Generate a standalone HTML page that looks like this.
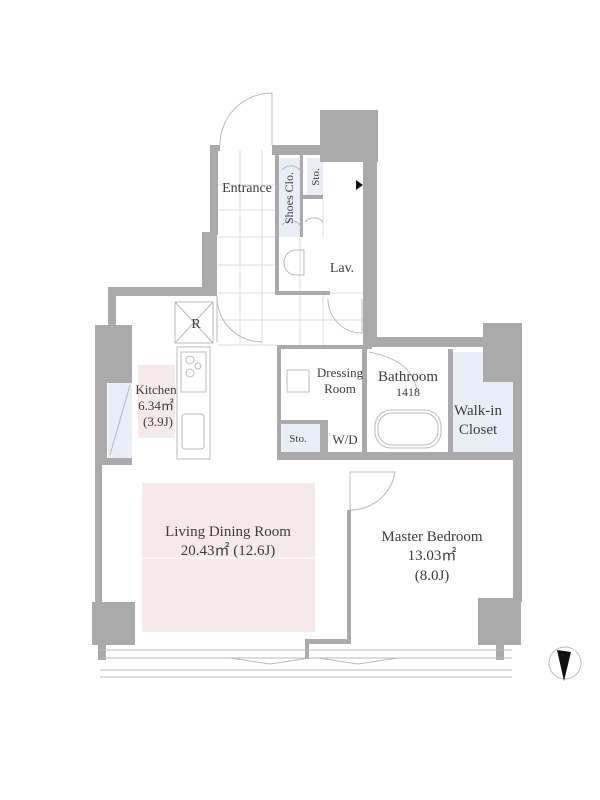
<!DOCTYPE html>
<html><head><meta charset="utf-8"><style>
html,body{margin:0;padding:0;background:#fff}
svg{display:block}
text{font-family:"Liberation Serif",serif;fill:#3d3d3d}
</style></head><body>
<svg width="600" height="800" viewBox="0 0 600 800" xmlns="http://www.w3.org/2000/svg">
<g fill="#f5e9ea">
<rect x="138" y="365" width="37" height="73"/>
<rect x="142" y="483" width="173" height="149"/>
</g>
<line x1="142" y1="558" x2="315" y2="558" stroke="#fff" stroke-width="1"/>
<g fill="#e9eef6">
<rect x="108" y="383" width="24" height="75"/>
<rect x="278" y="158" width="22" height="79"/>
<rect x="307" y="158" width="16" height="37"/>
<rect x="278" y="423" width="42" height="30"/>
<rect x="452" y="352" width="65" height="105"/>
</g>
<g stroke="#ddd" stroke-width="1" fill="none">
<path d="M218 185H278M218 210H278M218 237H278M218 265H278M218 293H363M218 320H363M218 345H277M240 150V345M262 150V345M300 237V345M323 293V345M300 160V237M323 200V237"/>
</g>
<g fill="#aaa">
<rect x="108" y="287" width="8" height="40"/>
<rect x="95" y="325" width="37" height="58"/>
<rect x="95" y="383" width="12" height="82"/>
<rect x="107" y="458" width="25" height="7"/>
<rect x="95" y="465" width="7" height="140"/>
<rect x="92" y="602" width="43" height="43"/>
<rect x="98" y="645" width="8" height="15"/>
<rect x="108" y="287" width="105" height="9"/>
<rect x="202" y="232" width="15" height="64"/>
<rect x="210" y="145" width="8" height="90"/>
<rect x="210" y="145" width="10" height="6"/>
<rect x="272" y="145" width="50" height="10"/>
<rect x="320" y="110" width="58" height="52"/>
<rect x="363" y="160" width="14" height="187"/>
<rect x="363" y="337" width="122" height="10"/>
<rect x="483" y="323" width="39" height="59"/>
<rect x="513" y="380" width="9" height="222"/>
<rect x="478" y="598" width="43" height="47"/>
<rect x="496" y="645" width="8" height="15"/>
<rect x="277" y="345" width="4" height="115"/>
<rect x="277" y="345" width="95" height="4"/>
<rect x="362" y="349" width="5" height="111"/>
<rect x="277" y="452" width="240" height="8"/>
<rect x="448" y="349" width="5" height="108"/>
<rect x="320" y="420" width="8" height="33"/>
<rect x="277" y="420" width="50" height="4"/>
<rect x="275" y="237" width="4" height="58"/>
<rect x="275" y="291" width="55" height="4"/>
<rect x="275" y="155" width="4" height="85"/>
<rect x="300" y="155" width="3" height="82"/>
<rect x="303" y="195" width="20" height="4"/>
<rect x="347" y="510" width="4" height="132"/>
<rect x="305" y="639" width="46" height="5"/>
<rect x="305" y="639" width="4" height="20"/>
</g>
<g fill="none" stroke="#bbb" stroke-width="1">
<rect x="175" y="302" width="38" height="41"/>
<path d="M175 302L213 343M213 302L175 343"/>
<rect x="177" y="347" width="33" height="112"/>
<rect x="181" y="352" width="25" height="40"/>
<circle cx="190" cy="360" r="4"/><circle cx="198" cy="366" r="3"/><circle cx="190" cy="373" r="4"/>
<rect x="182" y="414" width="22" height="35" rx="3"/>
<path d="M130 385L110 455"/>
<path d="M284 262a12 12 0 0 1 12-12h8v25h-8a12 12 0 0 1-12-12z"/>
<rect x="287" y="370" width="22" height="22"/>
<rect x="375" y="410" width="66" height="38" rx="16"/>
<rect x="378" y="413" width="60" height="32" rx="14"/>
<path d="M272 145V93a52 52 0 0 0-52 52"/>
<path d="M217 296V342M217 296a45 45 0 0 0 45 46"/>
<path d="M350 472V510M350 472h45a45 45 0 0 1-45 38"/>
<path d="M328 299a34 34 0 0 0 34 34V299"/>
<path d="M369 352c25 5 45 15 48 40"/>
<path d="M100 650H512M100 658H512M100 670H512M100 677H512"/>
<path d="M230 658l40 6 40-6M318 658l40 6 40-6"/>
<circle cx="565" cy="663" r="16"/>
<path d="M300 170a12 12 0 0 0-18 0M300 225a12 12 0 0 0-18 0M323 222a12 12 0 0 0-18 0"/>
</g>
<path d="M557 650L571 652L564 681Z" fill="#111"/>
<path d="M356 180l7 5-7 5z" fill="#111"/>
<g font-size="14" text-anchor="middle">
<text x="247" y="192">Entrance</text>
<text x="342" y="272">Lav.</text>
<text x="196" y="328">R</text>
<text x="156" y="394" font-size="13">Kitchen</text>
<text x="156" y="410" font-size="13">6.34㎡</text>
<text x="158" y="426" font-size="13">(3.9J)</text>
<text x="340" y="377" font-size="13">Dressing</text>
<text x="340" y="393" font-size="13">Room</text>
<text x="408" y="381" font-size="15">Bathroom</text>
<text x="408" y="396" font-size="12">1418</text>
<text x="478" y="415" font-size="15">Walk-in</text>
<text x="478" y="434" font-size="15">Closet</text>
<text x="298" y="442" font-size="11">Sto.</text>
<text x="345" y="444" font-size="13">W/D</text>
<text x="228" y="536" font-size="15">Living Dining Room</text>
<text x="228" y="555" font-size="15">20.43㎡ (12.6J)</text>
<text x="432" y="541" font-size="15">Master Bedroom</text>
<text x="432" y="560" font-size="15">13.03㎡</text>
<text x="432" y="580" font-size="15">(8.0J)</text>
<text transform="translate(293,198) rotate(-90)" font-size="12">Shoes Clo.</text>
<text transform="translate(319,177) rotate(-90)" font-size="11">Sto.</text>
</g>
</svg>
</body></html>
